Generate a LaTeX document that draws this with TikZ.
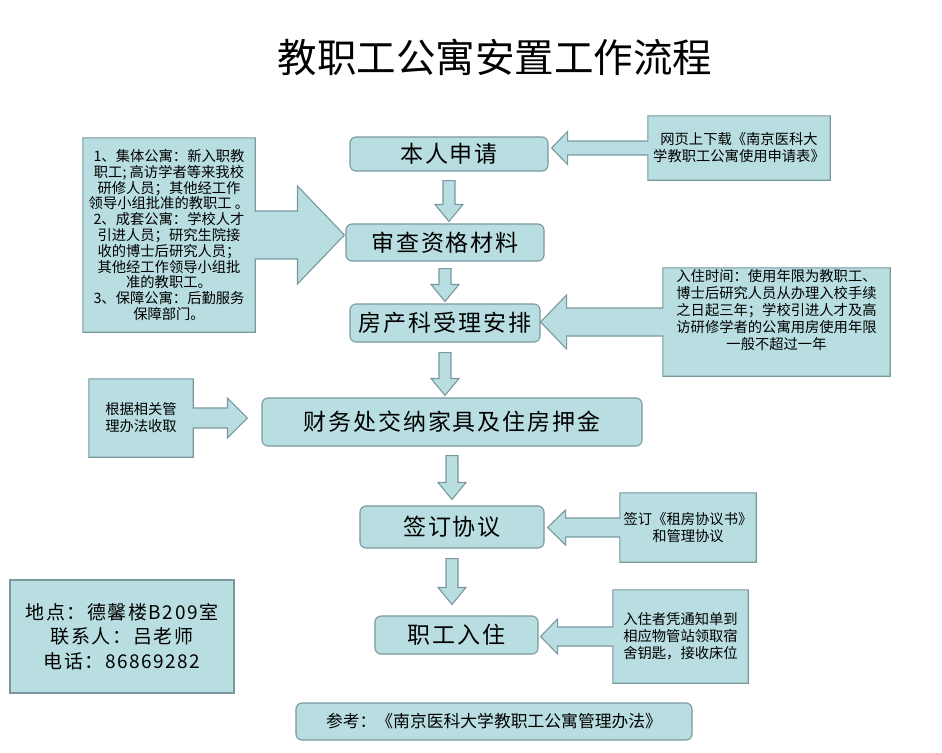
\documentclass[tikz,border=0pt]{standalone}
\usepackage{fontspec}
\setmainfont{Noto Sans CJK SC}
\usetikzlibrary{calc,backgrounds}

\definecolor{boxfill}{RGB}{185,222,225}
\definecolor{boxline}{RGB}{122,152,157}

\tikzset{
  stepbox/.style={draw=boxline, fill=boxfill, rounded corners=6pt, line width=1.1pt,
    inner sep=0pt, font=\fontsize{23}{28}\selectfont\addfontfeature{LetterSpace=8}},
  notebox/.style={inner sep=0pt, align=center, font=\fontsize{14.3}{17}\selectfont},
  callout/.style={draw=boxline, fill=boxfill, line width=1.1pt, line join=miter}
}

% box on the right, arrow pointing left
\newcommand\calloutleft[5]{%
  \path[callout] let \p1=(#1.north west), \p2=(#1.south east), \p3=(#2), \p4=(#1.west) in
    (\x1,\y1) -- (\x2,\y1) -- (\x2,\y2) -- (\x1,\y2) -- (\x1,\y4-#3) -- (\x3+#5,\y4-#3)
    -- (\x3+#5,\y4-#4) -- (\x3,\y4) -- (\x3+#5,\y4+#4) -- (\x3+#5,\y4+#3) -- (\x1,\y4+#3) -- cycle;}
% box on the left, arrow pointing right
\newcommand\calloutright[5]{%
  \path[callout] let \p1=(#1.north west), \p2=(#1.south east), \p3=(#2), \p4=(#1.east) in
    (\x1,\y1) -- (\x2,\y1) -- (\x2,\y4+#3) -- (\x3-#5,\y4+#3) -- (\x3-#5,\y4+#4) -- (\x3,\y4)
    -- (\x3-#5,\y4-#4) -- (\x3-#5,\y4-#3) -- (\x2,\y4-#3) -- (\x2,\y2) -- (\x1,\y2) -- cycle;}
% block arrow going down
\newcommand\blockdown[2]{%
  \path[callout] let \p1=(#1), \p2=(#2) in
    (\x1-6,\y1) -- (\x1+6,\y1) -- (\x1+6,\y2+17) -- (\x1+14,\y2+17) -- (\x1,\y2)
    -- (\x1-14,\y2+17) -- (\x1-6,\y2+17) -- cycle;}

\begin{document}
\begin{tikzpicture}[x=1pt,y=-1pt]
  \useasboundingbox (0,0) rectangle (942,752);

  \node[font=\fontsize{39.5}{44}\selectfont] (title) at (495,57) {教职工公寓安置工作流程};

  % main steps
  \node[stepbox, minimum width=198pt, minimum height=34pt] (apply) at (449,154) {本人申请};
  \node[stepbox, minimum width=198pt, minimum height=37pt] (check) at (445,242.5) {审查资格材料};
  \node[stepbox, minimum width=190pt, minimum height=38pt] (arrange) at (445,323) {房产科受理安排};
  \node[stepbox, minimum width=380pt, minimum height=48pt] (pay) at (452,422) {财务处交纳家具及住房押金};
  \node[stepbox, minimum width=184pt, minimum height=42pt] (sign) at (452,527) {签订协议};
  \node[stepbox, minimum width=163pt, minimum height=38pt] (movein) at (456.5,635) {职工入住};

  \node[stepbox, minimum width=396pt, minimum height=37pt,
    font=\fontsize{16.8}{20}\selectfont] (law) at (494,721.5) {参考：《南京医科大学教职工公寓管理办法》};

  \node[draw=boxline, fill=boxfill, line width=1.1pt, inner sep=0pt, align=center,
    minimum width=224pt, minimum height=113pt,
    font=\fontsize{19}{24.5}\selectfont\addfontfeature{LetterSpace=8}] (contact) at (122,636.5)
    {地点：德馨楼B209室\\联系人：吕老师\\电话：86869282};

  % notes
  \node[notebox, minimum width=182pt, minimum height=64pt] (download) at (739,148)
    {网页上下载《南京医科大\\学教职工公寓使用申请表》};
  \node[notebox, minimum width=227pt, minimum height=108pt] (term) at (776.5,322)
    {入住时间：使用年限为教职工、\\博士后研究人员从办理入校手续\\之日起三年；学校引进人才及高\\访研修学者的公寓用房使用年限\\一般不超过一年\\[8pt]};
  \node[notebox, minimum width=136pt, minimum height=69pt] (lease) at (688,527.5)
    {签订《租房协议书》\\和管理协议};
  \node[notebox, minimum width=135pt, minimum height=93pt] (keys) at (680.5,636.5)
    {入住者凭通知单到\\相应物管站领取宿\\舍钥匙，接收床位};
  \node[notebox, minimum width=172pt, minimum height=194pt,
    font=\fontsize{14.3}{15.8}\selectfont] (types) at (169,235)
    {1、集体公寓：新入职教\\职工; 高访学者等来我校\\研修人员；其他经工作\\领导小组批准的教职工 。\\2、成套公寓：学校人才\\引进人员；研究生院接\\收的博士后研究人员；\\其他经工作领导小组批\\准的教职工。\\3、保障公寓：后勤服务\\保障部门。};
  \node[notebox, minimum width=104pt, minimum height=78pt] (fee) at (141,418)
    {根据相关管\\理办法收取};

  \begin{scope}[on background layer]
    \blockdown{[yshift=-9pt]apply.south}{[yshift=2pt]check.north}
    \blockdown{[yshift=-7pt]check.south}{[yshift=2pt]arrange.north}
    \blockdown{[yshift=-10pt]arrange.south}{[yshift=2pt]pay.north}
    \blockdown{[yshift=-9pt]pay.south}{[yshift=6pt]sign.north}
    \blockdown{[yshift=-10pt]sign.south}{[yshift=11pt]movein.north}

    \calloutleft{download}{[xshift=3pt]apply.east}{7}{16.5}{16}
    \calloutleft{term}{arrange.east}{14}{27}{26}
    \calloutleft{lease}{[xshift=3pt]sign.east}{9.5}{17.5}{18}
    \calloutleft{keys}{[xshift=2pt]movein.east}{9.5}{17.5}{17}
    \calloutright{types}{[xshift=-1pt]check.west}{24}{49}{47}
    \calloutright{fee}{[xshift=-14pt]pay.west}{10}{20}{20}
  \end{scope}
\end{tikzpicture}
\end{document}
